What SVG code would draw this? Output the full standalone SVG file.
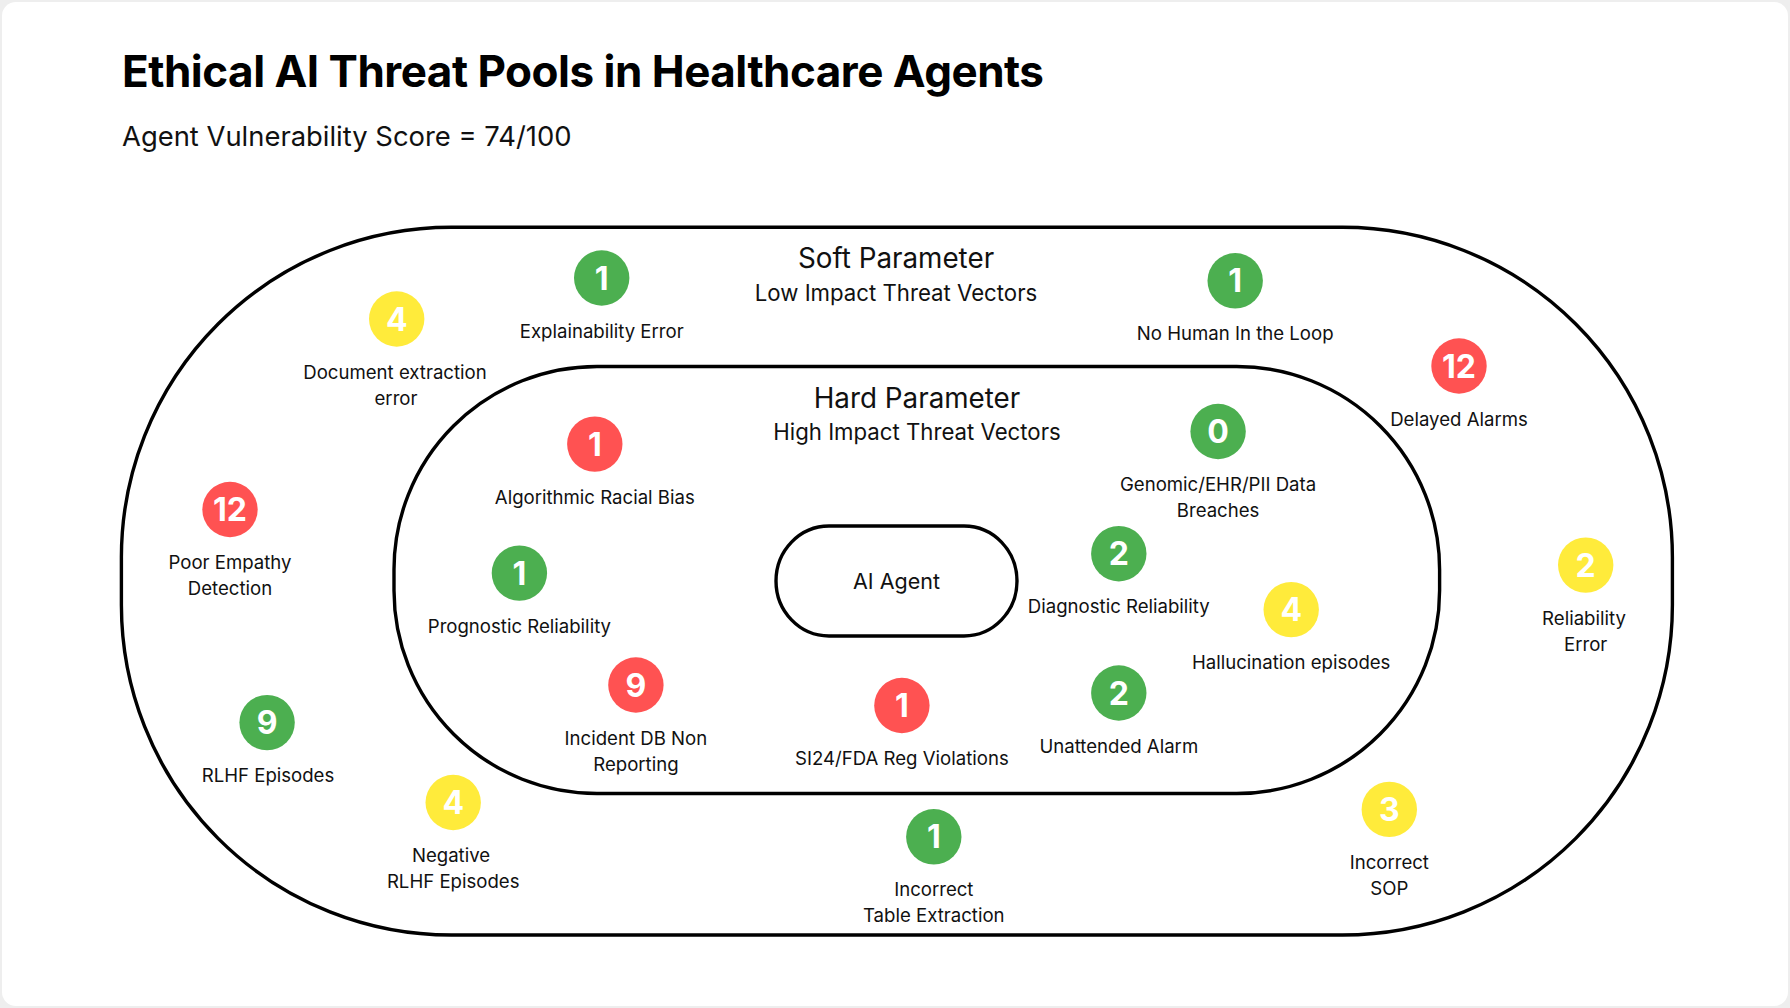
<svg xmlns="http://www.w3.org/2000/svg" width="1790" height="1008" viewBox="0 0 1790 1008">
<style>
text{font-family:Inter,"Noto Sans","Liberation Sans",sans-serif;fill:#111;}
.title{font-size:44px;font-weight:700;letter-spacing:-0.5px;fill:#000;}
.sub{font-size:27.4px;font-weight:400;}
.head{font-size:27.8px;text-anchor:middle;}
.head2{font-size:22.2px;text-anchor:middle;}
.lbl{font-size:18.6px;text-anchor:middle;}
.num{font-size:32px;font-weight:700;text-anchor:middle;fill:#fff;}
.zone{fill:none;stroke:#000;stroke-width:3.4;}
.g{fill:#4CAF50;}
.r{fill:#FF5252;}
.y{fill:#FFEB3B;}
</style>
<rect x="0" y="0" width="1790" height="1008" fill="#eeeeee"/>
<rect x="2" y="2" width="1786" height="1004" rx="14" fill="#ffffff"/>
<g id="header">
<text class="title" x="122" y="87">Ethical AI Threat Pools in Healthcare Agents</text>
<text class="sub" x="122" y="146">Agent Vulnerability Score = 74/100</text>
</g>
<g id="soft-zone">
<rect class="zone" x="121.4" y="227.3" width="1551" height="707.7" rx="330" ry="330"/>
<text class="head" x="896" y="268">Soft Parameter</text>
<text class="head2" x="896" y="301">Low Impact Threat Vectors</text>
</g>
<g id="hard-zone">
<rect class="zone" x="394" y="366.5" width="1045.6" height="427" rx="203" ry="203"/>
<text class="head" x="917" y="407.5">Hard Parameter</text>
<text class="head2" x="917" y="439.5">High Impact Threat Vectors</text>
</g>
<g id="ai-agent">
<rect class="zone" x="776" y="526" width="241" height="110" rx="53" ry="55"/>
<text x="896.5" y="588.5" font-size="21.5" text-anchor="middle">AI Agent</text>
</g>
<g id="connectors"></g>
<g id="node-document-extraction">
<circle class="y" cx="396.7" cy="319" r="27.7"/>
<text class="num" x="396.7" y="330.5">4</text>
<text class="lbl" x="395" y="379">Document extraction</text>
<text class="lbl" x="396" y="405">error</text>
</g>
<g id="node-explainability">
<circle class="g" cx="601.7" cy="278" r="27.7"/>
<text class="num" x="601.7" y="289.5">1</text>
<text class="lbl" x="601.7" y="337.5">Explainability Error</text>
</g>
<g id="node-no-human">
<circle class="g" cx="1235.2" cy="280.8" r="27.7"/>
<text class="num" x="1235.2" y="292.3">1</text>
<text class="lbl" x="1235.2" y="340.3">No Human In the Loop</text>
</g>
<g id="node-delayed-alarms">
<circle class="r" cx="1459" cy="366" r="27.7"/>
<text class="num" x="1459" y="377.5">12</text>
<text class="lbl" x="1459" y="425.5">Delayed Alarms</text>
</g>
<g id="node-poor-empathy">
<circle class="r" cx="230" cy="509.5" r="27.7"/>
<text class="num" x="230" y="521">12</text>
<text class="lbl" x="230" y="569">Poor Empathy</text>
<text class="lbl" x="230" y="595">Detection</text>
</g>
<g id="node-reliability-error">
<circle class="y" cx="1585.7" cy="565.1" r="27.7"/>
<text class="num" x="1585.7" y="576.6">2</text>
<text class="lbl" x="1584" y="624.6">Reliability</text>
<text class="lbl" x="1585.7" y="650.6">Error</text>
</g>
<g id="node-rlhf">
<circle class="g" cx="267.1" cy="722.6" r="27.7"/>
<text class="num" x="267.1" y="734.1">9</text>
<text class="lbl" x="268" y="782.1">RLHF Episodes</text>
</g>
<g id="node-negative-rlhf">
<circle class="y" cx="453.2" cy="802.5" r="27.7"/>
<text class="num" x="453.2" y="814">4</text>
<text class="lbl" x="451" y="862">Negative</text>
<text class="lbl" x="453.2" y="888">RLHF Episodes</text>
</g>
<g id="node-table-extraction">
<circle class="g" cx="933.8" cy="836.8" r="27.7"/>
<text class="num" x="933.8" y="848.3">1</text>
<text class="lbl" x="933.8" y="896.3">Incorrect</text>
<text class="lbl" x="933.8" y="922.3">Table Extraction</text>
</g>
<g id="node-incorrect-sop">
<circle class="y" cx="1389.3" cy="809.4" r="27.7"/>
<text class="num" x="1389.3" y="820.9">3</text>
<text class="lbl" x="1389.3" y="868.9">Incorrect</text>
<text class="lbl" x="1389.3" y="894.9">SOP</text>
</g>
<g id="node-racial-bias">
<circle class="r" cx="594.8" cy="444.1" r="27.7"/>
<text class="num" x="594.8" y="455.6">1</text>
<text class="lbl" x="594.8" y="503.6">Algorithmic Racial Bias</text>
</g>
<g id="node-data-breaches">
<circle class="g" cx="1218.1" cy="431.5" r="27.7"/>
<text class="num" x="1218.1" y="443">0</text>
<text class="lbl" x="1218.1" y="491">Genomic/EHR/PII Data</text>
<text class="lbl" x="1218.1" y="517">Breaches</text>
</g>
<g id="node-prognostic">
<circle class="g" cx="519.4" cy="573.1" r="27.7"/>
<text class="num" x="519.4" y="584.6">1</text>
<text class="lbl" x="519.4" y="632.6">Prognostic Reliability</text>
</g>
<g id="node-diagnostic">
<circle class="g" cx="1118.8" cy="553.7" r="27.7"/>
<text class="num" x="1118.8" y="565.2">2</text>
<text class="lbl" x="1118.8" y="613.2">Diagnostic Reliability</text>
</g>
<g id="node-hallucination">
<circle class="y" cx="1291.2" cy="609.6" r="27.7"/>
<text class="num" x="1291.2" y="621.1">4</text>
<text class="lbl" x="1291.2" y="669.1">Hallucination episodes</text>
</g>
<g id="node-incident-db">
<circle class="r" cx="635.9" cy="685" r="27.7"/>
<text class="num" x="635.9" y="696.5">9</text>
<text class="lbl" x="635.9" y="744.5">Incident DB Non</text>
<text class="lbl" x="635.9" y="770.5">Reporting</text>
</g>
<g id="node-reg-violations">
<circle class="r" cx="901.9" cy="705.5" r="27.7"/>
<text class="num" x="901.9" y="717">1</text>
<text class="lbl" x="901.9" y="765">SI24/FDA Reg Violations</text>
</g>
<g id="node-unattended-alarm">
<circle class="g" cx="1118.8" cy="693" r="27.7"/>
<text class="num" x="1118.8" y="704.5">2</text>
<text class="lbl" x="1118.8" y="752.5">Unattended Alarm</text>
</g>
</svg>
